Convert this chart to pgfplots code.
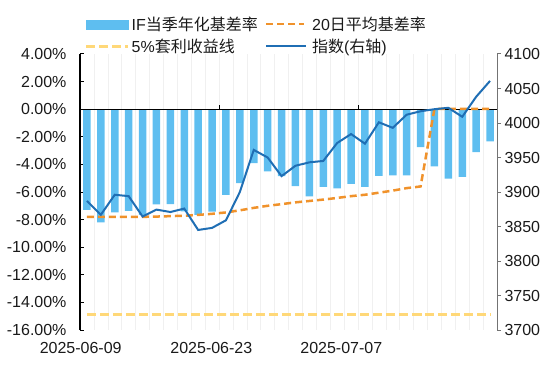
\documentclass[border=0pt]{standalone}
\usepackage{pgfplots}
\pgfplotsset{compat=1.18}
\usepackage{fontspec}
\setmainfont{Liberation Sans}
\newfontfamily\cjk{Noto Sans CJK SC}
\definecolor{barblue}{HTML}{5EBEF0}
\definecolor{idxblue}{HTML}{1F6EB4}
\definecolor{avgorange}{HTML}{F0922B}
\definecolor{arbyellow}{HTML}{FFD878}
\definecolor{txt}{HTML}{1A1A1A}
\newcommand{\lblfont}{\fontsize{16bp}{19bp}\selectfont}

\pgfplotstableread{
x basis avg arb idx
0  -7.30 -7.80 -14.85 3887
1  -8.20 -7.80 -14.85 3867
2  -7.47 -7.80 -14.85 3896
3  -7.36 -7.80 -14.85 3894
4  -7.65 -7.80 -14.85 3864.5
5  -6.90 -7.78 -14.85 3874.5
6  -6.88 -7.75 -14.85 3871
7  -7.40 -7.72 -14.85 3876
8  -7.65 -7.66 -14.85 3845
9  -7.42 -7.58 -14.85 3848
10 -6.20 -7.48 -14.85 3859
11 -5.35 -7.33 -14.85 3900
12 -3.90 -7.15 -14.85 3961
13 -4.50 -7.00 -14.85 3950
14 -4.85 -6.88 -14.85 3923
15 -5.57 -6.75 -14.85 3938
16 -6.32 -6.65 -14.85 3943
17 -5.62 -6.55 -14.85 3945
18 -5.73 -6.43 -14.85 3971
19 -5.42 -6.30 -14.85 3984
20 -5.62 -6.20 -14.85 3970
21 -4.83 -6.05 -14.85 4001
22 -4.80 -5.90 -14.85 3993
23 -4.80 -5.72 -14.85 4012
24 -2.75 -5.60 -14.85 4017
25 -4.14  0.03 -14.85 4020
26 -5.03  0.03 -14.85 4022
27 -4.91  0.03 -14.85 4009
28 -3.11  0.03 -14.85 4038
29 -2.34  0.03 -14.85 4061
}\datatable

\begin{document}
\begin{tikzpicture}[x=1bp,y=1bp]
\useasboundingbox (0,0) rectangle (555,366);
\begin{axis}[
  at={(80bp,36bp)}, anchor=south west,
  width=417bp, height=276bp, scale only axis,
  xmin=-0.5, xmax=29.5, ymin=-16, ymax=4,
  /pgf/number format/assume math mode=true,
  axis y line*=left, axis x line*=bottom,
  x axis line style={draw=none},
  y axis line style={black, line width=1.2bp},
  ytick={-16,-14,...,4},
  yticklabel={\pgfmathprintnumber[fixed,fixed zerofill,precision=2]{\tick}\%},
  ytick style={black, line width=1bp},
  tick align=inside, major tick length=4bp,
  xtick={-0.45,8.95,18.3},
  xticklabels={2025-06-09,2025-06-23,2025-07-07},
  xtick style={draw=none},
  extra x ticks={0.5,1.5,...,28.5},
  extra x tick labels={},
  extra x tick style={grid=major, major tick length=0pt, major grid style={black!6, line width=0.6bp}},
  every tick label/.append style={font=\lblfont, text=txt},
  yticklabel style={xshift=-10bp},
  xticklabel style={yshift=-9bp},
  clip=false,
]
\addplot[ybar, bar width=7.5bp, fill=barblue, draw=none] table[x=x, y=basis] {\datatable};
\draw[black, line width=1.2bp] (axis cs:-0.5,0) -- (axis cs:29.5,0);
\draw[black, line width=1bp] (axis cs:9.5,0) -- (axis cs:9.5,0.3);
\draw[black, line width=1bp] (axis cs:19.5,0) -- (axis cs:19.5,0.3);
\draw[black, line width=1bp] (axis cs:29.5,0) -- (axis cs:29.5,0.3);
\addplot[avgorange, line width=2.5bp, dash pattern=on 7bp off 4bp] table[x=x, y=avg] {\datatable};
\addplot[arbyellow, line width=3bp, dash pattern=on 9bp off 4bp] table[x=x, y=arb] {\datatable};
\end{axis}
\begin{axis}[
  at={(80bp,36bp)}, anchor=south west,
  width=417bp, height=276bp, scale only axis,
  xmin=-0.5, xmax=29.5, ymin=3700, ymax=4100,
  /pgf/number format/assume math mode=true,
  /pgf/number format/1000 sep={},
  axis y line*=right, axis x line=none,
  y axis line style={black!55, line width=1bp},
  ytick={3700,3750,...,4100},
  ytick style={black!55, line width=1bp},
  tick align=outside, major tick length=4bp,
  every tick label/.append style={font=\lblfont, text=txt},
  legend columns=2,
  legend cell align=left,
  legend style={draw=none, fill=none, font=\lblfont, text=txt,
    at={(axis description cs:0.0,1.143)}, anchor=north west,
    inner sep=0pt, row sep=3bp,
    /tikz/every even column/.append style={column sep=5bp}},
  clip=false,
]
\addlegendimage{legend image code/.code={\fill[barblue] (6bp,-4.5bp) rectangle (48bp,4.5bp); \path[draw=none,fill=none] (0bp,0bp) -- (48bp,0bp);}}
\addlegendentry{IF{\cjk 当季年化基差率}}
\addlegendimage{legend image code/.code={\draw[avgorange, line width=2.5bp, dash pattern=on 7bp off 4bp] (0bp,0bp) -- (38bp,0bp); \path[draw=none,fill=none] (0bp,0bp) -- (44bp,0bp);}}
\addlegendentry{20{\cjk 日平均基差率}}
\addlegendimage{legend image code/.code={\draw[arbyellow, line width=3bp, dash pattern=on 9bp off 4bp] (6bp,0bp) -- (48bp,0bp); \path[draw=none,fill=none] (0bp,0bp) -- (48bp,0bp);}}
\addlegendentry{5\%{\cjk 套利收益线}}
\addplot[idxblue, line width=2bp, legend image code/.code={\draw[idxblue, line width=2bp] (0bp,0bp) -- (40bp,0bp); \path[draw=none,fill=none] (0bp,0bp) -- (44bp,0bp);}] table[x=x, y=idx] {\datatable};
\addlegendentry{{\cjk 指数}({\cjk 右轴})}
\end{axis}
\end{tikzpicture}
\end{document}
